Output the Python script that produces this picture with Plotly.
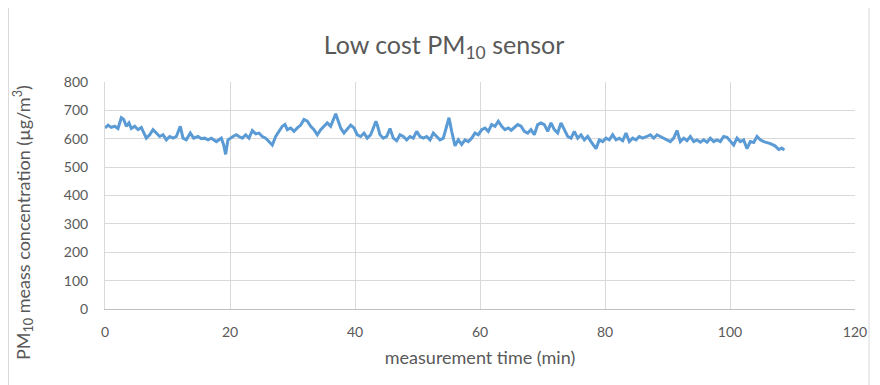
import plotly.graph_objects as go

# measurement time (min)
time_min = [
    0, 0.5, 1.0, 1.55, 2.08, 2.61, 2.99, 3.41, 3.84, 4.21, 4.75, 5.28, 5.81, 6.19, 6.61,
    7.15, 7.68, 8.21, 8.75, 9.28, 9.81, 10.35, 10.88, 11.41, 12.05, 12.48, 13.01, 13.65,
    14.19, 14.88, 15.41, 15.95, 16.48, 17.01, 17.81, 18.61, 18.99, 19.3, 19.68, 20.48, 21.01,
    21.44, 21.97, 22.51, 23.04, 23.57, 24.11, 24.64, 25.17, 25.71, 26.24, 26.77, 27.31,
    27.84, 28.37, 28.8, 29.17, 29.71, 30.24, 30.77, 31.31, 31.84, 32.37, 32.91, 33.44,
    33.97, 34.51, 35.04, 35.57, 36.11, 36.91, 37.33, 37.71, 38.24, 38.77, 39.31, 39.84,
    40.37, 40.91, 41.44, 41.97, 42.51, 43.04, 43.35,
    43.63, 44.0, 44.53, 45.07, 45.6, 46.13, 46.67, 47.2, 47.73, 48.27, 48.8, 49.33, 49.87,
    50.4, 50.93, 51.47, 52.0, 52.53, 53.07, 53.6, 54.13, 54.67, 55.04, 55.47, 56.0, 56.53,
    57.07, 57.6, 58.13, 58.67, 59.2, 59.73, 60.27, 60.8, 61.33, 61.87, 62.4, 62.93, 63.47,
    64.0, 64.53, 65.0, 65.49, 66.03, 66.56, 67.09, 67.63, 68.16, 68.69, 69.23, 69.76,
    70.29, 70.83, 71.36, 71.89, 72.43, 72.96, 73.49, 74.03, 74.56, 75.09, 75.63, 76.16,
    76.69, 77.23, 77.76, 78.56, 79.09, 79.63, 80.16, 80.69, 81.23, 81.76, 82.29, 82.83,
    83.36, 83.89, 84.43, 84.96, 85.49, 86.03, 86.72, 87.25, 87.79, 88.32, 88.85, 89.39,
    89.92, 90.45, 90.99, 91.52, 92.05, 92.59, 93.12, 93.65, 94.19, 94.72, 95.25, 95.79,
    96.32, 96.85, 97.39, 97.92, 98.45, 98.99, 99.52, 100.05, 100.59, 101.12, 101.65,
    102.19, 102.72, 103.25, 103.79, 104.32, 104.85, 105.39, 105.92, 106.45, 107.2, 107.8,
    108.3, 108.7,
]

# PM10 measured concentration (ug/m3)
pm10 = [
    638, 648, 640, 644, 636, 674, 668, 644, 656, 636, 644, 632, 640, 620, 602,
    614, 632, 620, 608, 614, 596, 608, 602, 608, 644, 602, 596, 620,
    602, 608, 600, 602, 596, 602, 590, 602, 578, 545, 596, 608, 614,
    608, 602, 614, 602, 629, 617, 620, 608, 602, 590, 578, 608,
    626, 644, 650, 632, 638, 626, 638, 648, 668, 662, 644, 632,
    614, 632, 644, 656, 644, 688, 662, 638, 620, 632, 648, 638,
    614, 608, 620, 602, 614, 644, 662,
    644, 614, 602, 608, 636, 602, 593, 614, 608, 596, 608, 602, 626,
    608, 602, 608, 596, 620, 608, 596, 602, 644, 674, 626, 575, 596,
    580, 596, 590, 602, 620, 614, 632, 638, 626, 650, 644, 662, 644,
    632, 638, 630, 638, 650, 644, 626, 620, 632, 614, 650, 656,
    650, 626, 656, 632, 620, 656, 632, 608, 602, 626, 602, 614,
    596, 608, 590, 565, 596, 590, 602, 596, 614, 596, 602, 593,
    620, 590, 602, 596, 608, 602, 608, 614, 602, 614, 608, 602,
    596, 590, 602, 629, 590, 602, 593, 608, 590, 596, 588, 596,
    588, 602, 590, 596, 590, 608, 605, 590, 578, 602, 590,
    596, 565, 590, 587, 608, 596, 590, 587, 583, 575, 562,
    567, 560,
]

x_ticks = [0, 20, 40, 60, 80, 100, 120]
y_ticks = [0, 100, 200, 300, 400, 500, 600, 700, 800]

FONT = "Lato"
TXT = "#595959"
GRID = "#D9D9D9"

# The page body adds an 8 px offset, so the figure is 8 px smaller.
W, H = 872, 377
ML, MR, MT, MB = 97, 25, 74, 76
PW, PH = W - ML - MR, H - MT - MB

fig = go.Figure()
fig.add_trace(go.Scatter(
    x=time_min, y=pm10, mode="lines",
    line=dict(color="#5B9BD5", width=3),
    showlegend=False, hoverinfo="x+y",
))

fig.update_layout(
    width=W, height=H,
    margin=dict(l=ML, r=MR, t=MT, b=MB, autoexpand=False),
    paper_bgcolor="white", plot_bgcolor="white",
    font=dict(family=FONT, color=TXT, size=14),
    title=dict(
        text="Low cost PM<sub>10</sub> sensor",
        x=0.5, xref="container", xanchor="center",
        y=1 - 37 / H, yref="container", yanchor="middle",
        font=dict(family=FONT, size=25, color=TXT),
    ),
    xaxis=dict(
        range=[0, 120], tickmode="array", tickvals=x_ticks,
        showgrid=True, gridcolor=GRID, gridwidth=1,
        zeroline=False, showline=True, linecolor="#BFBFBF", linewidth=1,
        ticks="", ticklabelstandoff=10, automargin=False,
        tickfont=dict(family=FONT, size=14, color=TXT),
        title=dict(text="measurement time (min)", standoff=12,
                   font=dict(family=FONT, size=18, color=TXT)),
    ),
    yaxis=dict(
        range=[0, 800], tickmode="array", tickvals=y_ticks,
        showgrid=True, gridcolor=GRID, gridwidth=1,
        zeroline=False, showline=True, linecolor=GRID, linewidth=1,
        ticks="", ticklabelstandoff=13, automargin=False,
        tickfont=dict(family=FONT, size=14, color=TXT),
    ),
    annotations=[dict(
        text="PM<sub>10</sub> meass concentration (µg/m<sup>3</sup>)",
        xref="paper", yref="paper",
        x=(15 - ML) / PW, y=(H - MB - 215) / PH,
        xanchor="center", yanchor="middle", textangle=-90, showarrow=False,
        font=dict(family=FONT, size=18, color=TXT),
    )],
)

# chart-area border (left and right edges)
for px in (0.5, 861):
    fig.add_shape(type="line", xref="paper", yref="paper",
                  x0=(px - ML) / PW, x1=(px - ML) / PW,
                  y0=(H - MB - H - 2) / PH, y1=(H - MB + 2) / PH,
                  line=dict(color=GRID, width=1), layer="below")

fig.write_html("out.html")
